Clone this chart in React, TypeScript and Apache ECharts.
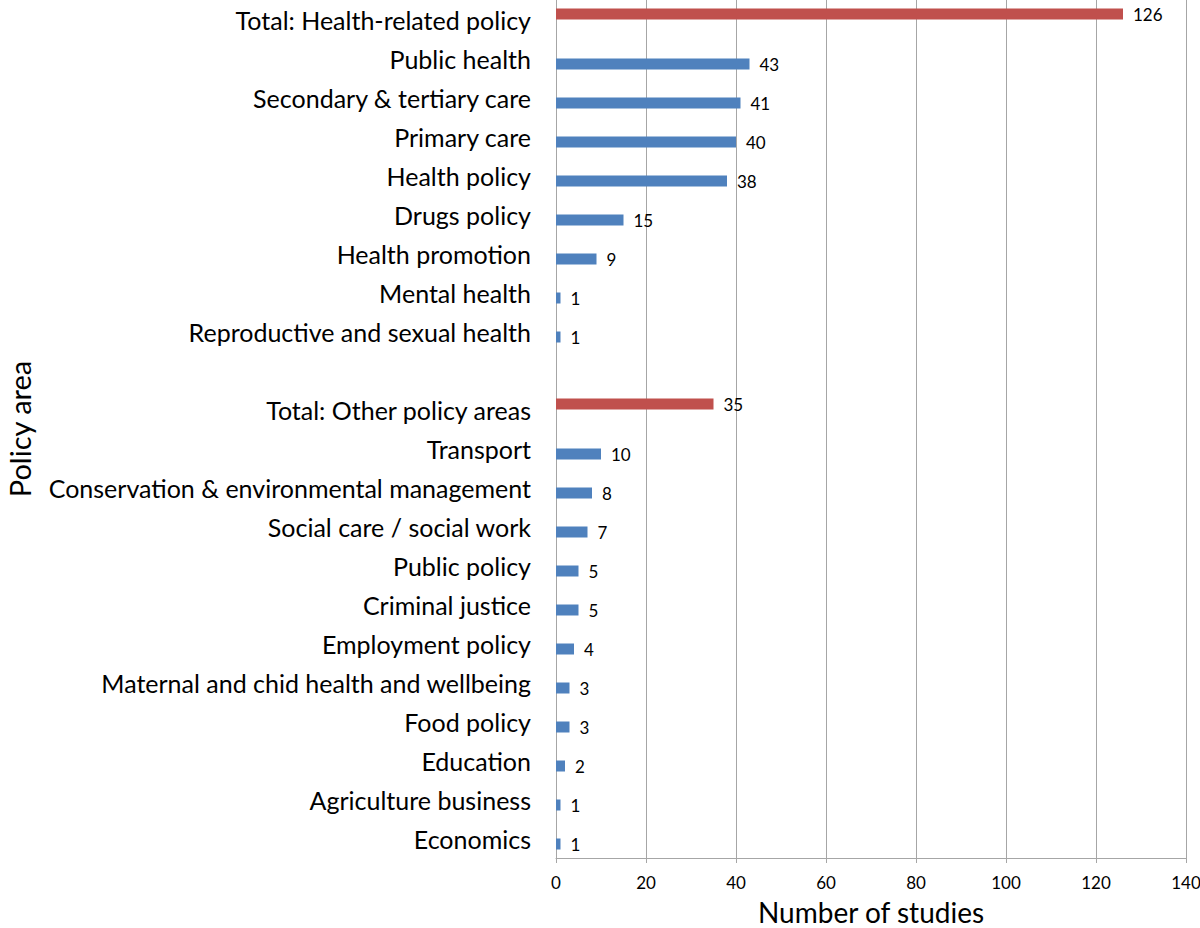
import React, { useEffect, useRef } from "react";
import * as echarts from "echarts";

const categories = [
  "Total: Health-related policy",
  "Public health",
  "Secondary & tertiary care",
  "Primary care",
  "Health policy",
  "Drugs policy",
  "Health promotion",
  "Mental health",
  "Reproductive and sexual health",
  "",
  "Total: Other policy areas",
  "Transport",
  "Conservation & environmental management",
  "Social care / social work",
  "Public policy",
  "Criminal justice",
  "Employment policy",
  "Maternal and chid health and wellbeing",
  "Food policy",
  "Education",
  "Agriculture business",
  "Economics",
];

const totalValues: (number | string)[] = [126, "-", "-", "-", "-", "-", "-", "-", "-", "-", 35, "-", "-", "-", "-", "-", "-", "-", "-", "-", "-", "-"];
const areaValues: (number | string)[] = ["-", 43, 41, 40, 38, 15, 9, 1, 1, "-", "-", 10, 8, 7, 5, 5, 4, 3, 3, 2, 1, 1];

const xTicks = { min: 0, max: 140, interval: 20 };

const FONT = "Lato";

export default function App() {
  const ref = useRef<HTMLDivElement>(null);
  useEffect(() => {
    if (!ref.current) return;
    const chart = echarts.init(ref.current, undefined, { renderer: "svg" });
    const label = {
      show: true,
      position: "right",
      distance: 10,
      fontSize: 17,
      color: "#000",
      fontFamily: FONT,
    };
    chart.setOption({
      animation: false,
      backgroundColor: "#fff",
      textStyle: { fontFamily: FONT },
      grid: {
        left: 556,
        right: 14,
        top: 0,
        bottom: 70,
        containLabel: false,
        outerBoundsMode: "none",
      },
      xAxis: {
        type: "value",
        min: xTicks.min,
        max: xTicks.max,
        interval: xTicks.interval,
        name: "Number of studies",
        nameLocation: "middle",
        nameGap: 40,
        nameTextStyle: { fontSize: 28, color: "#000", fontFamily: FONT, verticalAlign: "top" },
        axisLine: { show: true, lineStyle: { color: "#A6A6A6", width: 1 } },
        axisTick: { show: true, length: 5, lineStyle: { color: "#A6A6A6" } },
        axisLabel: { fontSize: 17, color: "#000", margin: 16, fontFamily: FONT },
        splitLine: { show: true, lineStyle: { color: "#A6A6A6", width: 1 } },
      },
      yAxis: {
        type: "category",
        data: categories,
        inverse: true,
        name: "Policy area",
        nameLocation: "middle",
        nameGap: 522,
        nameRotate: 90,
        nameTextStyle: { fontSize: 29, color: "#000", fontFamily: FONT },
        axisLine: { show: true, lineStyle: { color: "#A6A6A6", width: 1 } },
        axisTick: { show: false },
        axisLabel: {
          fontSize: 25,
          color: "#000",
          margin: 25,
          fontFamily: FONT,
          padding: [0, 0, 5, 0],
        },
        splitLine: { show: false },
      },
      series: [
        {
          type: "bar",
          name: "Total",
          data: totalValues,
          barWidth: 11,
          barGap: "0%",
          itemStyle: { color: "#C0504D" },
          label,
        },
        {
          type: "bar",
          name: "Area",
          data: areaValues,
          barWidth: 11,
          barGap: "0%",
          itemStyle: { color: "#4F81BD" },
          label,
        },
      ],
    });
    return () => chart.dispose();
  }, []);
  return (
    <div
      ref={ref}
      style={{ position: "fixed", left: 0, top: 0, width: 1200, height: 928, background: "#fff" }}
    />
  );
}
